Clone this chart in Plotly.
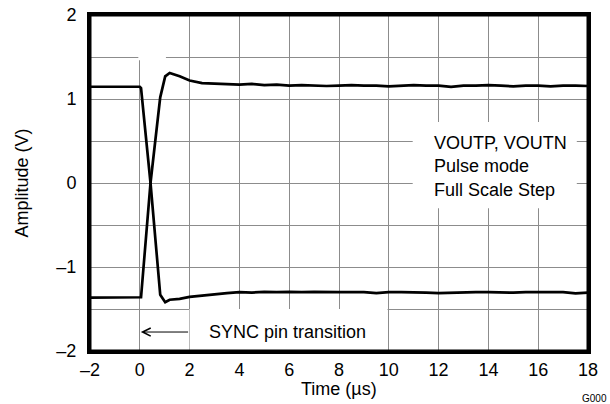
import plotly.graph_objects as go

# ---- data ----
time_us = [-2.0, -1.0, 0.0, 0.05, 0.43, 0.82, 1.02, 1.2, 1.6, 2.0, 2.5, 3.0, 3.5,
           4.0, 4.5, 5.0, 5.5, 6.0, 6.5, 7.0, 7.5, 8.0, 8.5, 9.0, 9.5, 10.0,
           10.5, 11.0, 11.5, 12.0, 12.5, 13.0, 13.5, 14.0, 14.5, 15.0, 15.5,
           16.0, 16.5, 17.0, 17.5, 18.0]

voutp = [-1.365, -1.365, -1.365, -1.36, 0.0, 1.02, 1.27, 1.31, 1.27, 1.22, 1.19,
         1.185, 1.175, 1.17, 1.18, 1.165, 1.17, 1.16, 1.165, 1.16, 1.155, 1.16,
         1.165, 1.16, 1.16, 1.15, 1.16, 1.165, 1.16, 1.16, 1.145, 1.16, 1.16,
         1.165, 1.16, 1.15, 1.16, 1.16, 1.15, 1.16, 1.16, 1.155]

voutn = [1.146, 1.146, 1.146, 1.13, 0.0, -1.33, -1.42, -1.39, -1.38, -1.355, -1.34,
         -1.32, -1.31, -1.30, -1.305, -1.295, -1.30, -1.295, -1.30, -1.295, -1.30,
         -1.30, -1.30, -1.30, -1.31, -1.30, -1.30, -1.30, -1.305, -1.31, -1.305,
         -1.30, -1.30, -1.30, -1.305, -1.305, -1.30, -1.30, -1.305, -1.30, -1.315,
         -1.305]

x_ticks = [-2, 0, 2, 4, 6, 8, 10, 12, 14, 16, 18]
x_ticktext = ["\u20132", "0", "2", "4", "6", "8", "10", "12", "14", "16", "18"]
y_ticks = [-2, -1.5, -1, -0.5, 0, 0.5, 1, 1.5, 2]
y_ticktext = ["\u20132", "", "\u20131", "", "0", "", "1", "", "2"]

FONT = "Liberation Sans, Arial, sans-serif"

W, H = 610, 404
ML, MR, MT, MB = 90, 22, 15, 53
PW, PH = W - ML - MR, H - MT - MB

fig = go.Figure()
for name, vals in (("VOUTP", voutp), ("VOUTN", voutn)):
    fig.add_trace(go.Scatter(x=time_us, y=vals, mode="lines", name=name,
                             line=dict(color="black", width=2.7),
                             showlegend=False))

# white areas covering the grid behind the labels
white_boxes = [
    dict(x0=-0.06, x1=1.05, y0=1.46, y1=2.0),
    dict(x0=2.0, x1=9.95, y0=-2.0, y1=-1.5),
    dict(x0=10.96, x1=17.55, y0=-0.30, y1=0.726),
]
for b in white_boxes:
    fig.add_shape(type="rect", xref="x", yref="y", layer="between",
                  fillcolor="white", line=dict(width=0), **b)

# heavy frame round the plot area
fig.add_shape(type="rect", xref="paper", yref="paper", x0=0, x1=1, y0=0, y1=1,
              layer="above", fillcolor="rgba(0,0,0,0)",
              line=dict(color="black", width=3))

fig.add_annotation(x=11.73, y=0.20, xref="x", yref="y", xanchor="left",
                   yanchor="middle", align="left", showarrow=False,
                   text="VOUTP, VOUTN<br>Pulse mode<br>Full Scale Step",
                   font=dict(family=FONT, size=18, color="black"))

fig.add_annotation(x=2.69, y=-1.774, xref="x", yref="y", xanchor="left",
                   yanchor="middle", showarrow=False,
                   text="SYNC pin transition",
                   font=dict(family=FONT, size=18, color="black"))

fig.add_annotation(x=0.04, y=-1.774, xref="x", yref="y", ax=2.0, ay=-1.774,
                   axref="x", ayref="y", text="", showarrow=True,
                   arrowhead=5, arrowsize=1.6, arrowwidth=1, arrowcolor="black",
                   standoff=0)

# x axis title
fig.add_annotation(xref="paper", yref="paper", x=0.5, y=-38 / PH,
                   text="Time (\u00b5s)", showarrow=False,
                   xanchor="center", yanchor="middle",
                   font=dict(family=FONT, size=18, color="black"))

fig.add_annotation(xref="paper", yref="paper", text="G000",
                   x=(609 - ML) / PW, y=-47 / PH,
                   showarrow=False, xanchor="right", yanchor="middle",
                   font=dict(family=FONT, size=10, color="black"))

fig.update_layout(
    width=W, height=H,
    margin=dict(l=ML, r=MR, t=MT, b=MB),
    paper_bgcolor="white", plot_bgcolor="white",
    font=dict(family=FONT, size=18, color="black"),
    xaxis=dict(range=[-2, 18], tickvals=x_ticks, ticktext=x_ticktext,
               showgrid=True, gridcolor="#8c8c8c", gridwidth=1,
               showline=True, linecolor="black", linewidth=3, mirror=True,
               ticks="", ticklabelstandoff=0, zeroline=False, automargin=False,
               ticklabeloverflow="allow"),
    yaxis=dict(range=[-2, 2], tickvals=y_ticks, ticktext=y_ticktext,
               showgrid=True, gridcolor="#8c8c8c", gridwidth=1,
               showline=True, linecolor="black", linewidth=3, mirror=True,
               ticks="", ticklabelstandoff=7, zeroline=False, automargin=False,
               ticklabeloverflow="allow",
               title=dict(text="Amplitude (V)", standoff=24,
                          font=dict(size=18))),
)

# remove the browser's default 8 px body margin so the figure sits at (0, 0)
fig.write_html("out.html",
               config={"displayModeBar": False},
               post_script="document.body.style.margin='0';"
                           "document.documentElement.style.overflow='hidden';")
